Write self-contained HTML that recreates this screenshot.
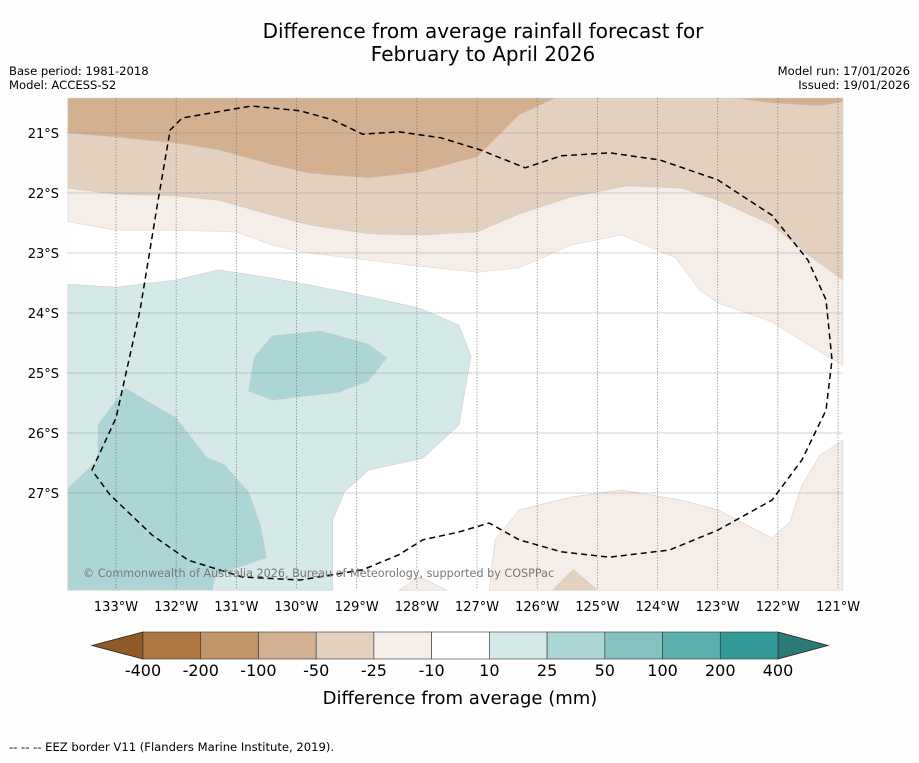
<!DOCTYPE html>
<html><head><meta charset="utf-8"><style>
body{margin:0;background:#fff;font-family:"Liberation Sans","DejaVu Sans",sans-serif}
svg text{font-family:"DejaVu Sans","Liberation Sans",sans-serif}
</style></head><body>
<svg id="chart" width="919" height="758" viewBox="0 0 919 758" xmlns="http://www.w3.org/2000/svg">
<rect width="919" height="758" fill="#fefefe"/>
<text x="483" y="38" font-size="20" text-anchor="middle">Difference from average rainfall forecast for</text>
<text x="483" y="61" font-size="20" text-anchor="middle">February to April 2026</text>
<text x="9" y="75" font-size="11.6">Base period: 1981-2018</text>
<text x="9" y="89" font-size="11.6">Model: ACCESS-S2</text>
<text x="910" y="75" font-size="11.6" text-anchor="end">Model run: 17/01/2026</text>
<text x="910" y="89" font-size="11.6" text-anchor="end">Issued: 19/01/2026</text>
<g id="map"></g>
<g id="cbar"></g>
<text x="460" y="704" font-size="18" text-anchor="middle">Difference from average (mm)</text>
<text x="9" y="751" font-size="11.6">--  --  -- EEZ border V11 (Flanders Marine Institute, 2019).</text>
</svg>
<script>
const lonTicks=[133,132,131,130,129,128,127,126,125,124,123,122,121];
const latTicks=[21,22,23,24,25,26,27];
const levelLabels=["-400","-200","-100","-50","-25","-10","10","25","50","100","200","400"];
const levelColors=["#ad773f","#c1956a","#d3b190","#e3d0bf","#f5ede8","#ffffff","#d5e9e8","#acd6d5","#84c1bf","#5aaeab","#319a96"];
const dry100=[[133.8,20.42],[133.8,21.0],[133.0,21.07],[132.0,21.17],[131.3,21.28],[130.4,21.53],[129.8,21.67],[128.8,21.75],[127.95,21.65],[127.0,21.4],[126.3,20.7],[125.7,20.42]];
const dry100b=[[122.7,20.42],[122.1,20.5],[121.3,20.55],[120.92,20.48],[120.92,20.42]];
const dry50=[[133.8,20.42],[133.8,21.92],[133.0,22.02],[132.0,22.05],[131.3,22.12],[130.4,22.37],[129.8,22.53],[128.8,22.68],[127.95,22.7],[127.0,22.65],[126.3,22.35],[125.45,22.07],[124.5,21.88],[123.6,21.92],[123.0,22.12],[122.1,22.53],[121.5,23.03],[120.92,23.45],[120.92,20.42]];
const dry25=[[133.8,20.42],[133.8,22.48],[133.0,22.62],[132.0,22.62],[131.0,22.65],[130.4,22.87],[129.8,23.0],[128.8,23.12],[127.95,23.22],[127.0,23.32],[126.3,23.25],[125.45,22.87],[124.6,22.7],[123.7,23.08],[123.3,23.62],[123.0,23.83],[122.1,24.15],[121.5,24.53],[120.92,24.87],[120.92,20.42]];
const dry25b=[[126.8,28.62],[126.7,27.78],[126.3,27.28],[125.45,27.07],[124.6,26.95],[123.6,27.12],[123.0,27.28],[122.1,27.75],[121.8,27.48],[121.6,26.87],[121.3,26.37],[120.92,26.12],[120.92,28.62]];
const dry25c=[[128.3,28.62],[127.95,28.4],[127.5,28.62]];
const dry50c=[[125.75,28.62],[125.4,28.27],[125.0,28.62]];
const wet10=[[133.8,23.52],[133.0,23.57],[132.0,23.45],[131.3,23.28],[130.4,23.42],[129.8,23.53],[128.8,23.73],[127.95,23.92],[127.3,24.2],[127.1,24.72],[127.3,25.87],[127.9,26.42],[128.8,26.62],[129.2,26.98],[129.4,27.45],[129.4,28.62],[133.8,28.62]];
const wet25=[[133.8,26.92],[133.3,26.45],[133.3,25.87],[132.85,25.25],[132.0,25.75],[131.5,26.4],[131.2,26.53],[130.8,26.98],[130.6,27.53],[130.5,28.08],[131.35,28.37],[131.4,28.62],[133.8,28.62]];
const wet25b=[[130.7,24.73],[130.4,24.38],[129.6,24.3],[128.8,24.52],[128.5,24.75],[128.8,25.13],[129.3,25.32],[130.4,25.45],[130.8,25.3]];
const eez=[[133.4,26.62],[133.0,25.75],[132.6,23.95],[132.3,22.12],[132.1,20.95],[131.9,20.75],[130.75,20.55],[129.94,20.63],[129.4,20.78],[128.9,21.02],[128.3,20.98],[127.6,21.08],[126.95,21.28],[126.2,21.58],[125.6,21.38],[124.8,21.33],[123.96,21.45],[123.0,21.78],[122.1,22.37],[121.5,23.12],[121.2,23.78],[121.1,24.78],[121.2,25.62],[121.6,26.45],[122.1,27.12],[123.0,27.62],[123.8,27.95],[124.8,28.07],[125.6,27.98],[126.3,27.78],[126.8,27.5],[127.3,27.65],[127.9,27.78],[128.3,28.03],[128.9,28.28],[129.94,28.45],[130.9,28.4],[131.8,28.12],[132.4,27.7],[133.1,27.03],[133.4,26.62]];

const NS="http://www.w3.org/2000/svg";
const X=lon=>116+(133-lon)*60.17;
const Y=lat=>133+(lat-21)*60;
const map=document.getElementById('map');
function mk(tag,attrs,parent){const e=document.createElementNS(NS,tag);for(const k in attrs)e.setAttribute(k,attrs[k]);parent.appendChild(e);return e;}
const pts=a=>a.map(p=>X(p[0]).toFixed(1)+','+Y(p[1]).toFixed(1)).join(' ');
const x0=X(133.81),x1=X(120.92),y0=Y(20.42),y1=Y(28.62);
const bg=mk('rect',{x:x0,y:y0,width:x1-x0,height:y1-y0,fill:'#ffffff'},map);


const layers=[[dry50,3,'band-minus50'],[dry100,2,'band-minus100'],[dry100b,2,'band-minus100-east'],[dry25b,4,'band-minus25-southeast'],[dry25c,4,'patch-minus25'],[dry50c,3,'patch-minus50'],[wet10,6,'band-plus10'],[wet25,7,'band-plus25-southwest'],[wet25b,7,'band-plus25-centre']];
const l0=mk('polygon',{points:pts(dry25),fill:levelColors[4],stroke:'#e0d8d2','stroke-width':0.6},map);


layers.forEach(([d,c,n])=>{const p=mk('polygon',{points:pts(d),fill:levelColors[c],stroke:'#cfc8c2','stroke-width':0.5},map);

});
lonTicks.forEach(l=>{const ln=mk('line',{x1:X(l),x2:X(l),y1:y0,y2:y1,stroke:'#666','stroke-width':0.8,'stroke-dasharray':'1,2'},map);


const t=mk('text',{x:X(l),y:611,'font-size':13,'text-anchor':'middle'},map);t.textContent=l+'°W';

});
latTicks.forEach(l=>{const ln=mk('line',{x1:x0,x2:x1,y1:Y(l),y2:Y(l),stroke:'#888','stroke-width':0.8,'stroke-dasharray':'1,1'},map);


const t=mk('text',{x:59,y:Y(l)+5,'font-size':13,'text-anchor':'end'},map);t.textContent=l+'°S';

});
const ez=mk('polyline',{points:pts(eez),fill:'none',stroke:'#000','stroke-width':1.5,'stroke-dasharray':'6,4'},map);


const cp=mk('text',{x:83,y:577,'font-size':11.2,fill:'#777'},map);cp.textContent='© Commonwealth of Australia 2026, Bureau of Meteorology, supported by COSPPac';


const cb=document.getElementById('cbar');
const cx0=143,cx1=778,cy0=632,cy1=659,w=(cx1-cx0)/levelColors.length;
const tl=mk('polygon',{points:`92,645.5 ${cx0},${cy0} ${cx0},${cy1}`,fill:'#8f5a26',stroke:'#222','stroke-width':0.8},cb);


const tr=mk('polygon',{points:`828,645.5 ${cx1},${cy0} ${cx1},${cy1}`,fill:'#2a7a78',stroke:'#222','stroke-width':0.8},cb);


levelColors.forEach((c,i)=>{const r=mk('rect',{x:cx0+i*w,y:cy0,width:w,height:cy1-cy0,fill:c,stroke:'#333','stroke-width':0.6},cb);

});
levelLabels.forEach((s,i)=>{const t=mk('text',{x:cx0+i*w,y:676,'font-size':16,'text-anchor':'middle'},cb);t.textContent=s;

});
</script>
</body></html>
